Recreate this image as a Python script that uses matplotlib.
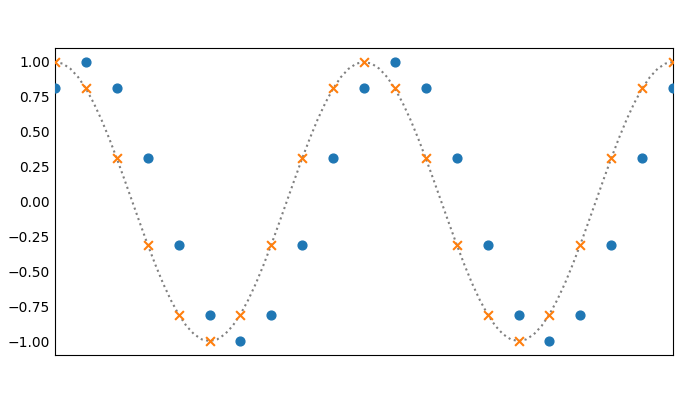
import numpy as np
import matplotlib
matplotlib.use('Agg')
import matplotlib.pyplot as plt

# sample positions and values
sample_x = list(range(21))
cos_values = [1.00, 0.81, 0.31, -0.31, -0.81, -1.00, -0.81, -0.31, 0.31, 0.81,
              1.00, 0.81, 0.31, -0.31, -0.81, -1.00, -0.81, -0.31, 0.31, 0.81, 1.00]
shifted_values = [0.81, 1.00, 0.81, 0.31, -0.31, -0.81, -1.00, -0.81, -0.31, 0.31,
                  0.81, 1.00, 0.81, 0.31, -0.31, -0.81, -1.00, -0.81, -0.31, 0.31, 0.81]

# dotted reference curve, read at quarter steps
curve_x = [i * 0.25 for i in range(81)]
curve_y = [1.000, 0.988, 0.951, 0.891, 0.809, 0.707, 0.588, 0.454, 0.309, 0.156,
           0.000, -0.156, -0.309, -0.454, -0.588, -0.707, -0.809, -0.891, -0.951, -0.988,
           -1.000, -0.988, -0.951, -0.891, -0.809, -0.707, -0.588, -0.454, -0.309, -0.156,
           0.000, 0.156, 0.309, 0.454, 0.588, 0.707, 0.809, 0.891, 0.951, 0.988,
           1.000, 0.988, 0.951, 0.891, 0.809, 0.707, 0.588, 0.454, 0.309, 0.156,
           0.000, -0.156, -0.309, -0.454, -0.588, -0.707, -0.809, -0.891, -0.951, -0.988,
           -1.000, -0.988, -0.951, -0.891, -0.809, -0.707, -0.588, -0.454, -0.309, -0.156,
           0.000, 0.156, 0.309, 0.454, 0.588, 0.707, 0.809, 0.891, 0.951, 0.988, 1.000]

fig = plt.figure(figsize=(6.92, 4.0), dpi=100)
ax = fig.add_axes([55 / 692, 1 - 355 / 400, (673 - 55) / 692, (355 - 48) / 400])

ax.plot(curve_x, curve_y, linestyle=':', color='grey', linewidth=1.5)
ax.scatter(sample_x, shifted_values, color='#1f77b4', s=40, zorder=3)
ax.scatter(sample_x, cos_values, color='#ff7f0e', marker='x', s=40, zorder=3)

ax.set_xlim(0, 20)
ax.set_ylim(-1.1, 1.1)
ax.set_xticks([])
ax.set_yticks([-1.0, -0.75, -0.5, -0.25, 0.0, 0.25, 0.5, 0.75, 1.0])
ax.tick_params(axis='y', length=0, labelsize=10)

fig.savefig('out.png', dpi=100)
